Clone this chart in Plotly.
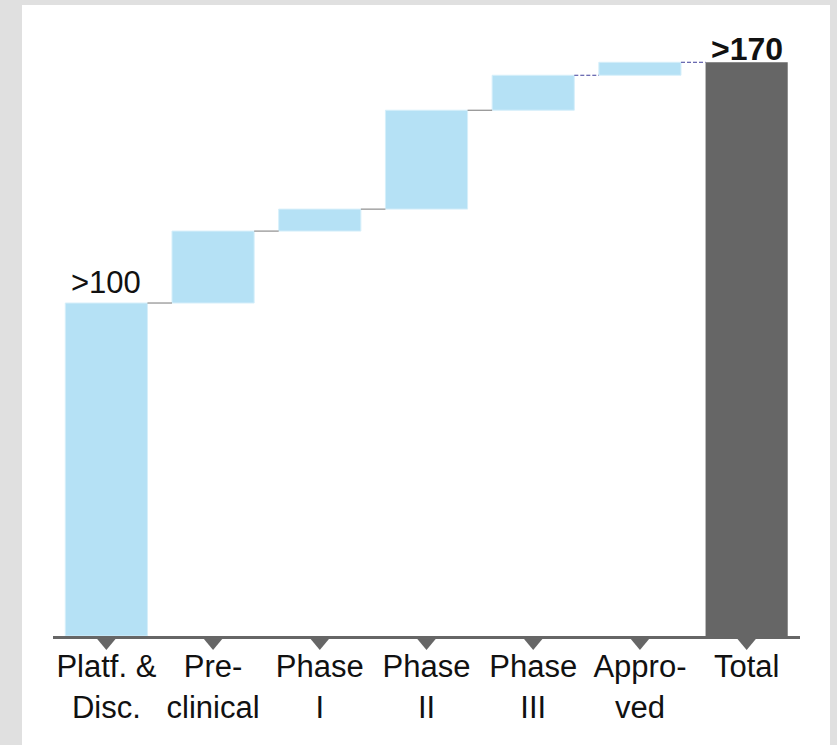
import plotly.graph_objects as go

# ---- data ----
categories = ["Platf. &<br>Disc.", "Pre-<br>clinical", "Phase<br>I", "Phase<br>II",
              "Phase<br>III", "Appro-<br>ved", "Total"]
step_values = [100, 21.6, 6.6, 29.7, 10.5, 3.9]
start_label = ">100"
total_label = ">170"

# ---- derived ----
total_value = sum(step_values)
measures = ["relative"] * len(step_values) + ["total"]
wf_values = step_values + [0]
xs = list(range(len(categories)))
cumulative = []
acc = 0
for v in step_values:
    acc += v
    cumulative.append(acc)

BAR_W = 0.77
W, H = 837, 745
ML, MR, MT, MB = 53, 37, 5, 109
PLOT_H = H - MT - MB
PLOT_W = W - ML - MR
Y_MAX = 189.5

FONT = "Liberation Sans, Arial, sans-serif"
BLUE = "#b5e1f5"
GREY = "#666666"

fig = go.Figure()
fig.add_trace(go.Waterfall(
    x=xs, y=wf_values, measure=measures, width=BAR_W,
    increasing=dict(marker=dict(color=BLUE, line=dict(color="#d6effa", width=1))),
    totals=dict(marker=dict(color=GREY, line=dict(width=0))),
    connector=dict(visible=False),
    hoverinfo="skip", showlegend=False,
))

# connectors
for i in range(len(step_values)):
    dashed = i >= len(step_values) - 2
    fig.add_trace(go.Scatter(
        x=[xs[i] + BAR_W / 2, xs[i + 1] - BAR_W / 2],
        y=[cumulative[i], cumulative[i]],
        mode="lines",
        line=dict(color="#3f3f9a" if dashed else "#777777", width=1,
                  dash="4px,2px" if dashed else "solid"),
        hoverinfo="skip", showlegend=False,
    ))

# triangle markers under the axis line (x in data units, y in paper units)
px_x = 1.0 / (PLOT_W / len(xs))   # data units per pixel on x
for x in xs:
    fig.add_shape(
        type="path", xref="x", yref="paper",
        path=f"M {x - 10 * px_x},{-2 / PLOT_H} L {x + 10 * px_x},{-2 / PLOT_H} L {x},{-14 / PLOT_H} Z",
        fillcolor=GREY, line=dict(width=0), layer="above",
    )

fig.add_annotation(x=xs[0], y=step_values[0], text=start_label, showarrow=False,
                   yanchor="bottom", yshift=1, font=dict(size=31, color="#111111", family=FONT))
fig.add_annotation(x=xs[-1], y=total_value, text="<b>" + total_label + "</b>", showarrow=False,
                   yanchor="bottom", yshift=-7, font=dict(size=32, color="#111111", family=FONT))

# white panel
fig.add_shape(type="rect", xref="paper", yref="paper",
              x0=(22 - ML) / PLOT_W, x1=(830 - ML) / PLOT_W, y0=-0.3, y1=1.0,
              fillcolor="white", line=dict(width=0), layer="below")

fig.update_layout(
    width=W, height=H,
    margin=dict(l=ML, r=MR, t=MT, b=MB),
    paper_bgcolor="#e0e0e0", plot_bgcolor="rgba(0,0,0,0)",
    font=dict(family=FONT, color="#111111"),
    xaxis=dict(range=[-0.5, len(xs) - 0.5], tickvals=xs, ticktext=categories,
               showgrid=False, zeroline=False, showline=True, linecolor=GREY, linewidth=3,
               ticks="", ticklabelstandoff=1,
               tickfont=dict(size=31, color="#111111", family=FONT)),
    yaxis=dict(range=[0, Y_MAX], visible=False, showgrid=False, zeroline=False),
)

fig.write_html("out.html", config={"displayModeBar": False},
               post_script="document.body.style.margin='0';document.body.style.overflow='hidden';")
